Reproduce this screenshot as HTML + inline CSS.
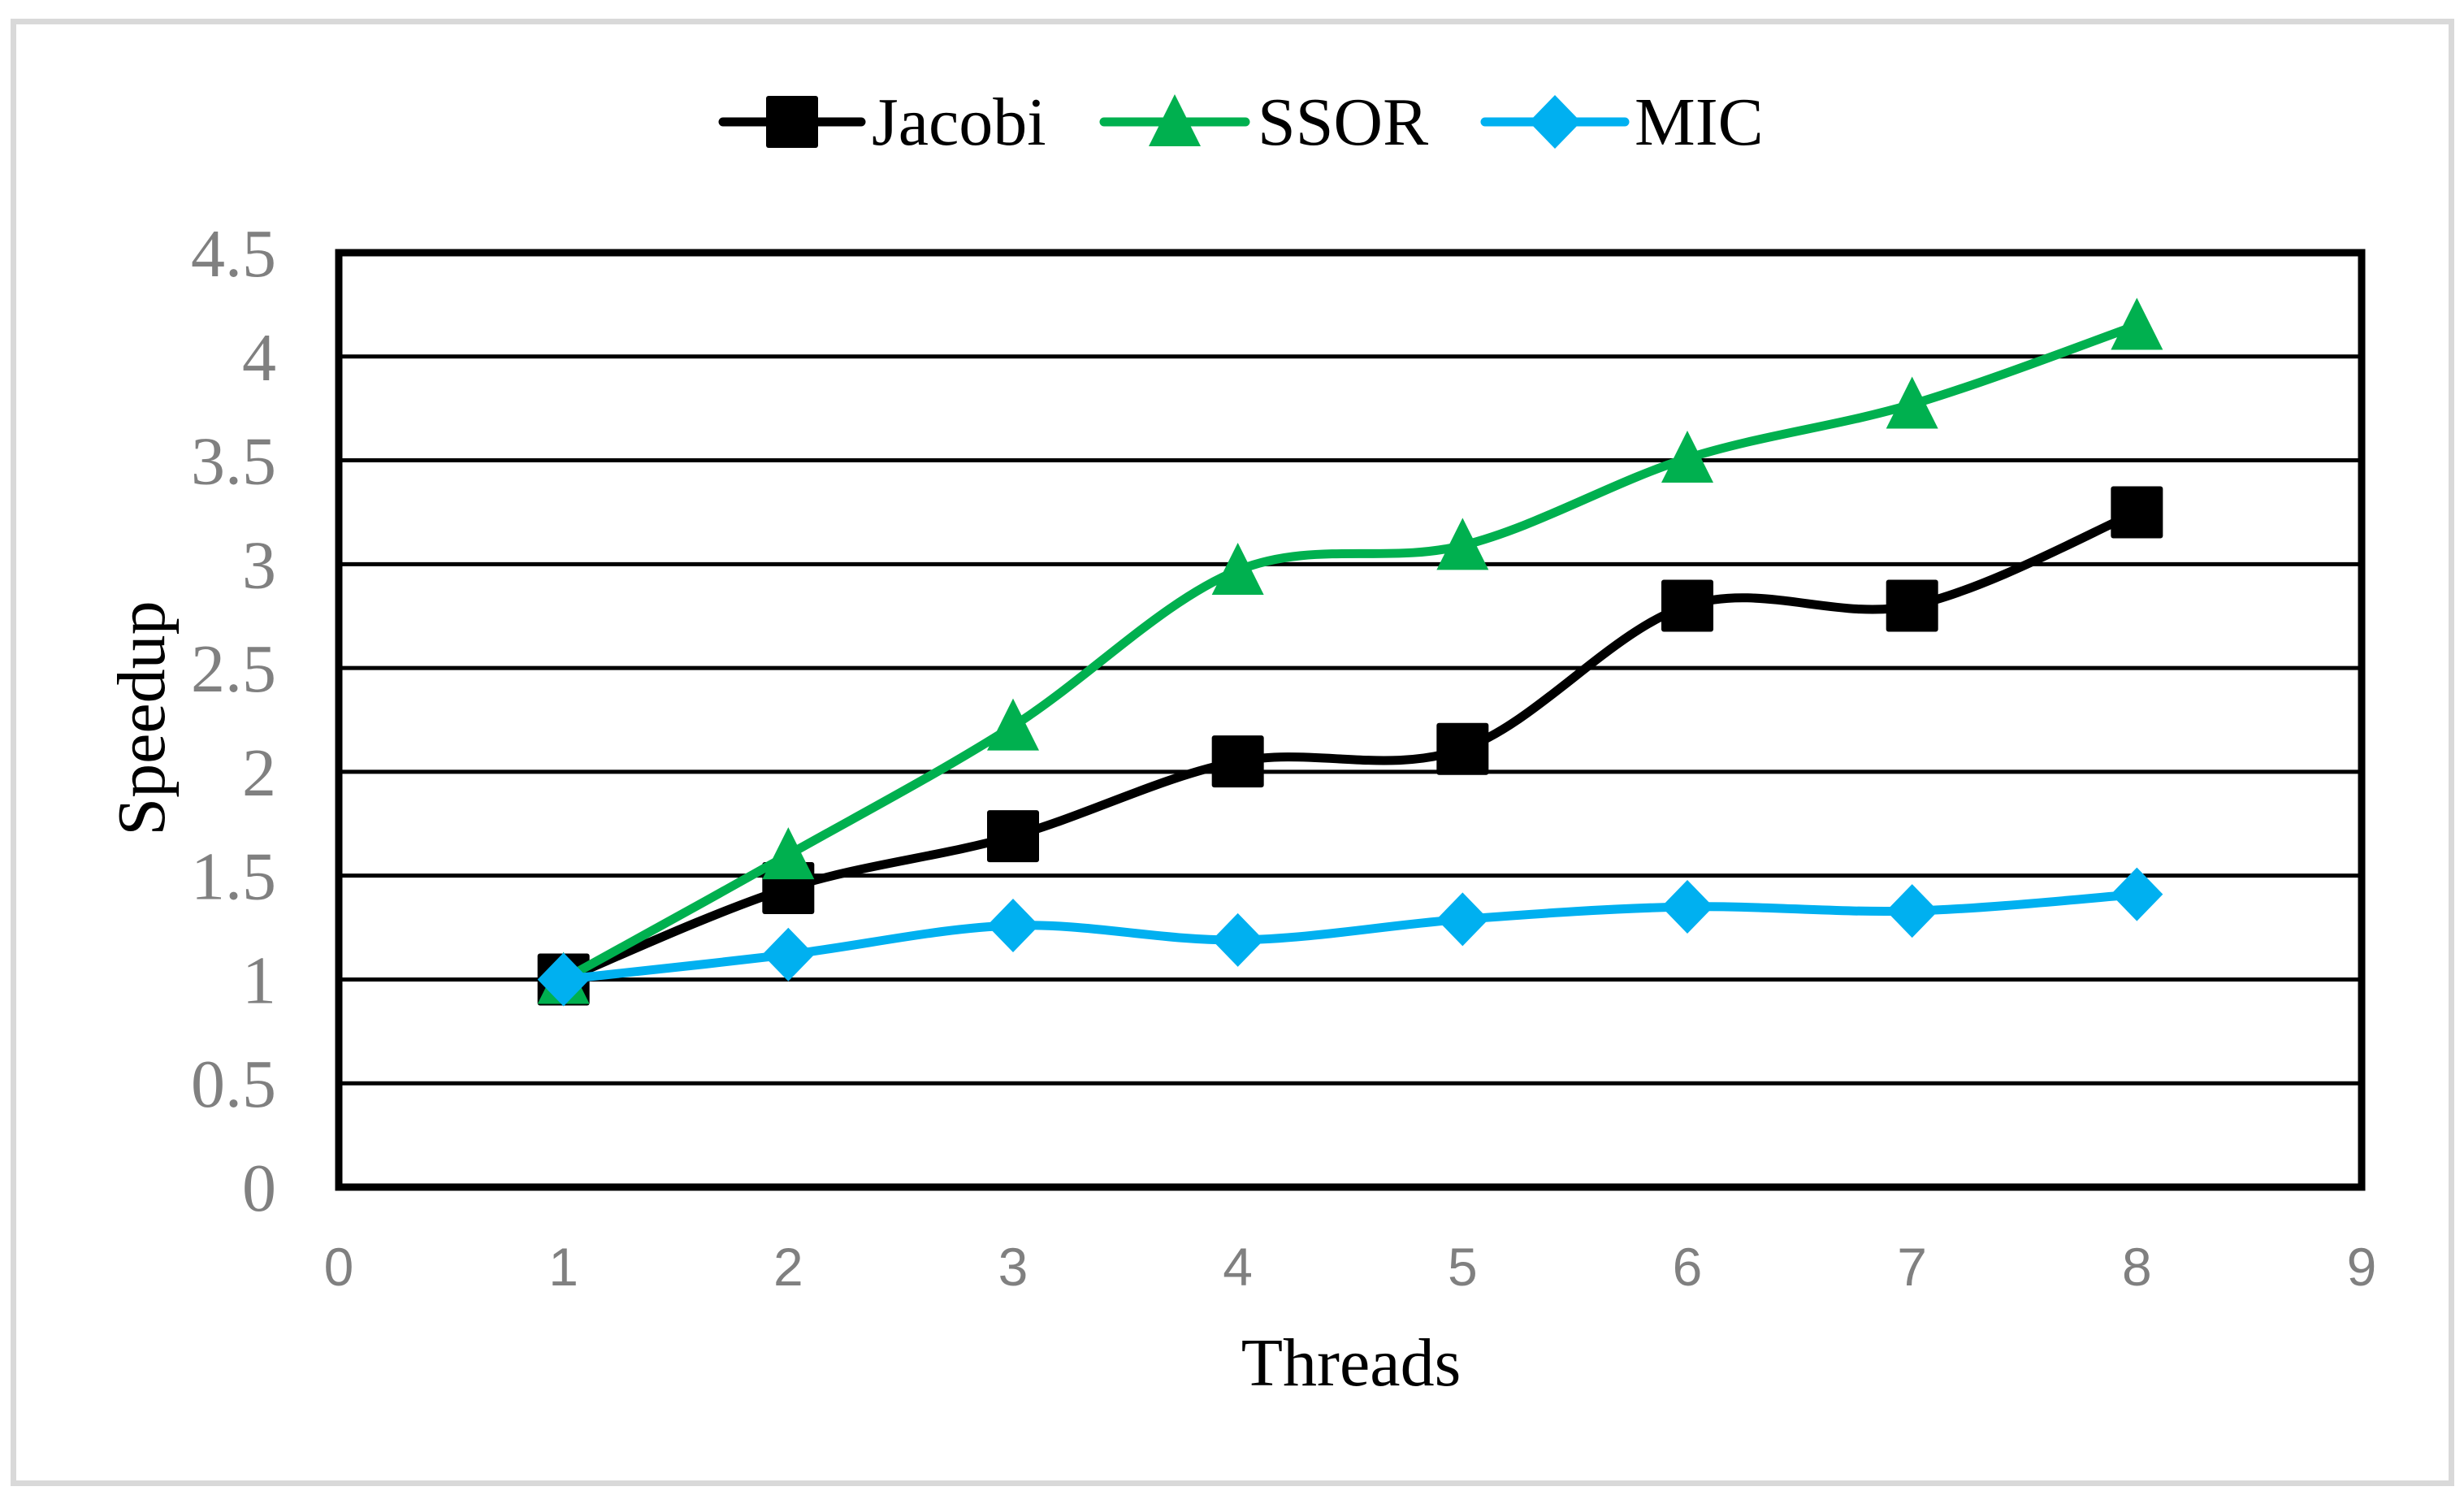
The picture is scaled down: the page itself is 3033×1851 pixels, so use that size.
<!DOCTYPE html>
<html><head><meta charset="utf-8"><style>
html,body{margin:0;padding:0;background:#fff}
svg{display:block}
</style></head><body>
<svg id="chart" width="3033" height="1851" viewBox="0 0 3033 1851" xmlns="http://www.w3.org/2000/svg">
<rect x="16.5" y="26.5" width="3001" height="1799" fill="#fff" stroke="#d9d9d9" stroke-width="7"/>
<g id="grid"></g>
<g id="series"></g>
<rect x="417" y="311" width="2490" height="1150" fill="none" stroke="#000" stroke-width="9"/>
<g id="yticks" font-family="Liberation Serif, serif" font-size="84" fill="#808080" text-anchor="end"></g>
<g id="xticks" font-family="Liberation Sans, sans-serif" font-size="66" fill="#808080" text-anchor="middle"></g>
<text transform="translate(202,884) rotate(-90)" font-family="Liberation Serif, serif" font-size="84" text-anchor="middle" fill="#000">Speedup</text>
<text x="1663" y="1705" font-family="Liberation Serif, serif" font-size="84" text-anchor="middle" fill="#000">Threads</text>
<g id="legend" font-family="Liberation Serif, serif" font-size="84" fill="#000"></g>
</svg>
<script>
const threads = [1, 2, 3, 4, 5, 6, 7, 8];
const jacobi = [1.0, 1.44, 1.69, 2.05, 2.11, 2.80, 2.80, 3.25];
const ssor = [1.0, 1.60, 2.22, 2.97, 3.09, 3.51, 3.77, 4.15];
const mic = [1.0, 1.12, 1.26, 1.19, 1.29, 1.35, 1.33, 1.41];
const yTicks = ["0", "0.5", "1", "1.5", "2", "2.5", "3", "3.5", "4", "4.5"];
const xTicks = ["0", "1", "2", "3", "4", "5", "6", "7", "8", "9"];
const seriesNames = ["Jacobi", "SSOR", "MIC"];

const NS = "http://www.w3.org/2000/svg";
const X0 = 417, X1 = 2907, Y0 = 1461, Y1 = 311;
function sx(v){ return X0 + (v - 0) / 9 * (X1 - X0); }
function sy(v){ return Y0 - (v - 0) / 4.5 * (Y0 - Y1); }
function mk(tag, attrs, parent){
  const e = document.createElementNS(NS, tag);
  for (const k in attrs) e.setAttribute(k, attrs[k]);
  parent.appendChild(e);
  return e;
}
const grid = document.getElementById('grid');
const yt = document.getElementById('yticks');
const xt = document.getElementById('xticks');
yTicks.forEach(function(t){
  const v = parseFloat(t);
  const y = sy(v);
  if (v > 0 && v < 4.5) {
    const l = mk('line', {x1: X0, x2: X1, y1: y, y2: y, stroke: '#000', 'stroke-width': 5}, grid);
    
    
  }
  const tx = mk('text', {x: 340, y: y + 29}, yt);
  tx.textContent = t;
  
  
});
xTicks.forEach(function(t){
  const tx = mk('text', {x: sx(parseFloat(t)), y: 1582}, xt);
  tx.textContent = t;
  
  
});

function smoothPath(xs, ys){
  const p = xs.map(function(x, i){ return [sx(x), sy(ys[i])]; });
  let d = 'M' + p[0][0] + ',' + p[0][1];
  const t = 1/6;
  for (let i = 0; i < p.length - 1; i++) {
    const p0 = p[Math.max(0, i-1)], p1 = p[i], p2 = p[i+1], p3 = p[Math.min(p.length-1, i+2)];
    const c1 = [p1[0] + (p2[0]-p0[0])*t, p1[1] + (p2[1]-p0[1])*t];
    const c2 = [p2[0] - (p3[0]-p1[0])*t, p2[1] - (p3[1]-p1[1])*t];
    d += ' C' + c1[0] + ',' + c1[1] + ' ' + c2[0] + ',' + c2[1] + ' ' + p2[0] + ',' + p2[1];
  }
  return d;
}
function marker(kind, x, y, color, parent){
  let e;
  if (kind === 'square') e = mk('rect', {x: x-32, y: y-32, width: 64, height: 64, rx: 3, fill: color}, parent);
  else if (kind === 'triangle') e = mk('polygon', {points: (x)+','+(y-34)+' '+(x+32)+','+(y+30)+' '+(x-32)+','+(y+30), fill: color}, parent);
  else e = mk('polygon', {points: x+','+(y-33)+' '+(x+32)+','+y+' '+x+','+(y+33)+' '+(x-32)+','+y, fill: color}, parent);
  return e;
}
const cfg = [
  {name: seriesNames[0], vals: jacobi, color: '#000000', kind: 'square', key: 'jacobi'},
  {name: seriesNames[1], vals: ssor, color: '#00b04f', kind: 'triangle', key: 'ssor'},
  {name: seriesNames[2], vals: mic, color: '#00b0f0', kind: 'diamond', key: 'mic'}
];
const sg = document.getElementById('series');
cfg.forEach(function(s){
  const g = mk('g', {}, sg);
  
  
  const path = mk('path', {d: smoothPath(threads, s.vals), fill: 'none', stroke: s.color, 'stroke-width': 11, 'stroke-linejoin': 'round', 'stroke-linecap': 'round'}, g);
  
  
  threads.forEach(function(t, i){
    const m = marker(s.kind, sx(t), sy(s.vals[i]), s.color, g);
    
    
  });
});
const lg = document.getElementById('legend');
const legendX = [[890, 1060, 1073], [1359, 1533, 1548], [1828, 2000, 2012]];
cfg.forEach(function(s, i){
  const g = mk('g', {}, lg);
  
  
  const a = legendX[i];
  mk('line', {x1: a[0], x2: a[1], y1: 150, y2: 150, stroke: s.color, 'stroke-width': 11, 'stroke-linecap': 'round'}, g);
  marker(s.kind, (a[0]+a[1])/2, 150, s.color, g);
  const tx = mk('text', {x: a[2], y: 178}, g);
  tx.textContent = s.name;
  
  
});
</script>
</body></html>
